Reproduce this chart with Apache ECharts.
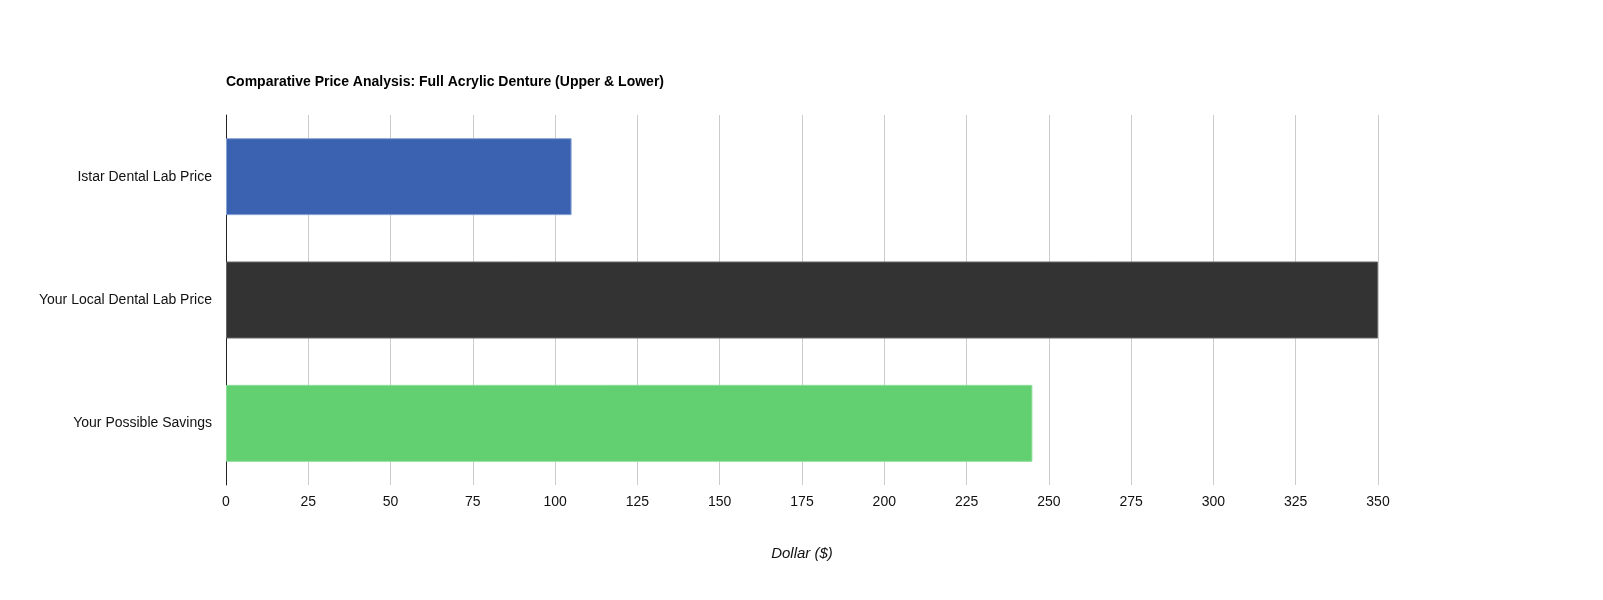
<!DOCTYPE html>
<html>
<head>
<meta charset="utf-8">
<script src="https://cdn.jsdelivr.net/npm/echarts@6/dist/echarts.min.js"></script>
<style>
  html, body { margin: 0; padding: 0; background: #fff; }
  #chart { width: 1603px; height: 600px; }
</style>
</head>
<body>
<div id="chart"></div>
<script>
// Price comparison data
const categories = ['Istar Dental Lab Price', 'Your Local Dental Lab Price', 'Your Possible Savings'];
const prices = [105, 350, 245];
const barColors = ['#3b62b0', '#333333', '#62cf71'];
const barEdges = ['#8aa3d6', '#666666', '#8fdd99'];
const xTicks = [0, 25, 50, 75, 100, 125, 150, 175, 200, 225, 250, 275, 300, 325, 350];

const font = 'Arial, "Liberation Sans", sans-serif';
const chart = echarts.init(document.getElementById('chart'));

chart.setOption({
  animation: false,
  title: {
    text: 'Comparative Price Analysis: Full Acrylic Denture (Upper & Lower)',
    left: 226,
    top: 75,
    padding: 0,
    textStyle: { fontFamily: font, fontSize: 14, fontWeight: 'bold', color: '#000' }
  },
  grid: { left: 226, right: 225, top: 115, bottom: 115, containLabel: false },
  xAxis: {
    type: 'value',
    min: xTicks[0],
    max: xTicks[xTicks.length - 1],
    interval: 25,
    name: 'Dollar ($)',
    nameLocation: 'middle',
    nameGap: 61,
    nameTextStyle: { fontFamily: font, fontSize: 15, fontStyle: 'italic', color: '#111' },
    axisLine: { show: false },
    axisTick: { show: false },
    axisLabel: { fontFamily: font, fontSize: 14, color: '#111', margin: 10 },
    splitLine: { show: true, lineStyle: { color: '#cccccc', width: 1 } }
  },
  yAxis: {
    type: 'category',
    inverse: true,
    data: categories,
    axisLine: { show: true, lineStyle: { color: '#222', width: 1 } },
    axisTick: { show: false },
    axisLabel: { fontFamily: font, fontSize: 14, color: '#111', margin: 14 }
  },
  series: [{
    type: 'bar',
    barWidth: 77,
    data: prices.map((v, i) => ({
      value: v,
      itemStyle: { color: barColors[i], borderColor: barEdges[i], borderWidth: 1 }
    }))
  }]
});
</script>
</body>
</html>
